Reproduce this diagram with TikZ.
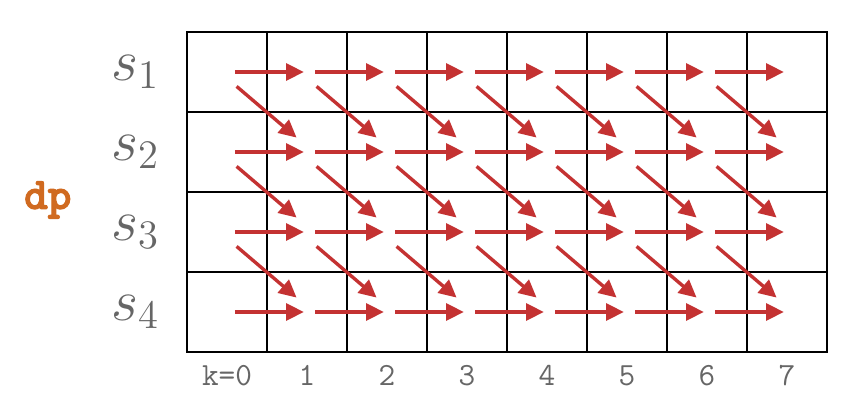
\documentclass[tikz,border=0pt]{standalone}
\usepackage{amsmath}
\usepackage{fontspec}
\usepackage{tikz}
\usetikzlibrary{positioning,arrows.meta}
\newfontfamily\dpfont{lmmonolt10-bold.otf}[FakeBold=2.5]
\definecolor{stepred}{RGB}{196,50,50}
\definecolor{labelgray}{RGB}{102,102,102}
\definecolor{dporange}{RGB}{208,106,32}

\begin{document}
\begin{tikzpicture}
[
cellbox/.style={rectangle, draw, line width=0.8pt, minimum size=1cm, inner sep=0, outer sep=0},
stepline/.style={stepred, line width=1.2pt, -{Triangle[length=0.22cm,width=0.21cm]}},
rowlabel/.style={labelgray, inner sep=0, font=\fontsize{22.5}{27}\selectfont},
colabel/.style={labelgray, inner sep=0, font=\fontsize{11.5}{14}\selectfont\ttfamily},
dplabel/.style={dporange, font=\fontsize{16}{19}\selectfont\dpfont}
]
\useasboundingbox (-2.3375,0.4) rectangle (8.25,-4.7125);
\foreach \r in {1,...,4}
  \foreach \k in {0,...,7}
    \node[cellbox] (c-\r-\k) at (\k+0.5,-\r+0.5) {};
\foreach \r in {1,...,4}
  \foreach \k [count=\n] in {0,...,6}
    \draw[stepline] ([xshift=0.1cm]c-\r-\k.center) -- ([xshift=-0.04cm]c-\r-\n.center);
\foreach \r [count=\s from 2] in {1,...,3}
  \foreach \k [count=\n] in {0,...,6}
    \draw[stepline] ([shift={(0.12cm,-0.18cm)}]c-\r-\k.center) -- ([shift={(-0.13cm,0.18cm)}]c-\s-\n.center);
\foreach \r in {1,...,4}
  \node[rowlabel, left=0.34cm of c-\r-0] (s\r) {$s_{\r}$};
\node[dplabel] (dp) at (-1.74,-2.1) {dp};
\node[colabel, below=0.16cm of c-4-0] (k0) {k=0};
\foreach \k in {1,...,7}
  \node[colabel, below=0.16cm of c-4-\k] (k\k) {\k};
\end{tikzpicture}
\end{document}
